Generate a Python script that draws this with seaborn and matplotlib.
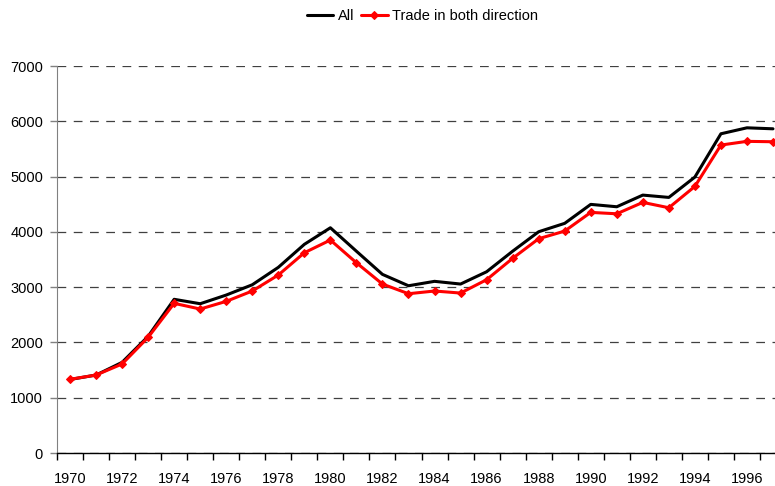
import numpy as np
import pandas as pd
import seaborn as sns
import matplotlib.pyplot as plt
from matplotlib.ticker import MultipleLocator, FixedLocator

years = list(range(1970, 1998))
all_trade = [1330, 1410, 1640, 2110, 2780, 2700, 2857, 3043, 3358, 3774,
             4074, 3650, 3231, 3025, 3105, 3056, 3278, 3650, 4002, 4154,
             4497, 4454, 4665, 4623, 4991, 5774, 5882, 5864]
both_dir = [1333, 1410, 1610, 2092, 2707, 2604, 2743, 2930, 3219, 3622,
            3852, 3441, 3056, 2881, 2930, 2893, 3134, 3521, 3876, 4014,
            4352, 4327, 4533, 4436, 4822, 5570, 5637, 5630]
year_labels = [str(y) if y % 2 == 0 else '' for y in years]

df = pd.DataFrame({'year': years, 'All': all_trade, 'Trade in both direction': both_dir})

sns.set_style('white')
plt.rcParams['font.family'] = ['Liberation Sans', 'DejaVu Sans']
plt.rcParams['text.color'] = 'black'
plt.rcParams['xtick.color'] = 'black'
plt.rcParams['ytick.color'] = 'black'

fig = plt.figure(figsize=(7.75, 4.86), dpi=100)
ax = fig.add_axes([57 / 775, 1 - 453 / 486, 729 / 775, (453 - 66) / 486])

sns.lineplot(data=df, x='year', y='All', color='black', linewidth=2.2, ax=ax, label='All')
sns.lineplot(data=df, x='year', y='Trade in both direction', color='#ff0000', linewidth=2.2,
             marker='D', markersize=4, markeredgecolor='#ff0000', ax=ax,
             label='Trade in both direction')

ax.set_xlim(1969.5, 1997.5)
ax.set_ylim(0, 7000)
ax.yaxis.set_major_locator(MultipleLocator(1000))
ax.xaxis.set_major_locator(FixedLocator(years))
ax.set_xticklabels(year_labels)
ax.xaxis.set_minor_locator(FixedLocator([y - 0.5 for y in years]))
ax.tick_params(axis='x', which='major', length=0, labelsize=10.5, pad=13.5, labelcolor='black')
ax.tick_params(axis='x', which='minor', length=5, width=1, color='black', direction='out', bottom=True)
ax.tick_params(axis='y', which='major', length=5, width=1, color='#808080', direction='out',
               labelsize=10.5, left=True, pad=5, labelcolor='black')
ax.set_xlabel('')
ax.set_ylabel('')
ax.grid(axis='y', color='#404040', linestyle=(0, (7, 6)), linewidth=0.9)
for s in ['top', 'right']:
    ax.spines[s].set_visible(False)
ax.spines['left'].set_color('#808080')
ax.spines['bottom'].set_color('black')
ax.spines['bottom'].set_linewidth(1)
ax.set_axisbelow(True)

ax.legend_.remove()
handles, labels = ax.get_legend_handles_labels()
fig.legend(handles, labels, loc='upper center', bbox_to_anchor=(0.545, 1.008), ncol=2,
           frameon=False, fontsize=10.5, handlelength=1.8, handletextpad=0.3, columnspacing=0.5)

plt.savefig('out.png', dpi=100)
